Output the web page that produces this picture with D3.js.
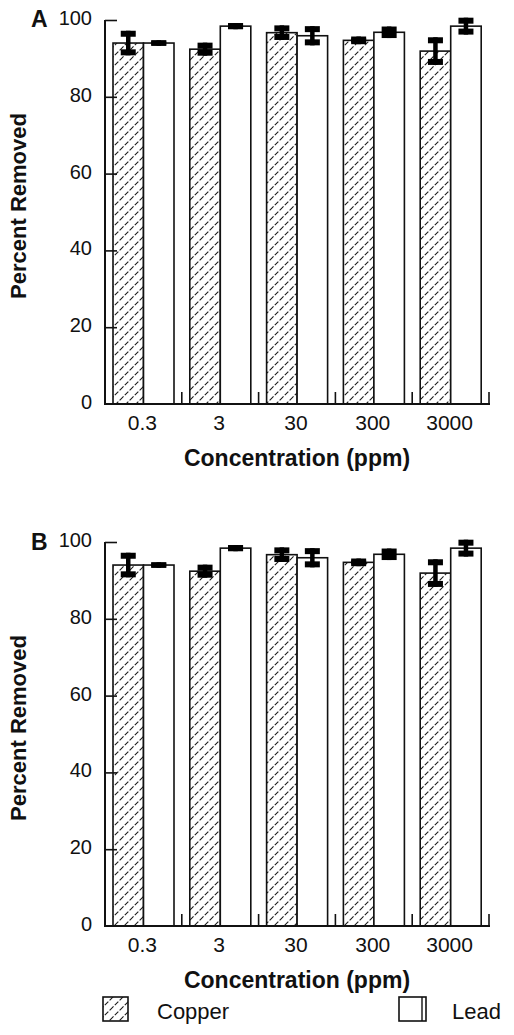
<!DOCTYPE html>
<html><head><meta charset="utf-8">
<script src="https://cdn.jsdelivr.net/npm/d3@7"></script>
<style>body{margin:0;background:#fff}svg{display:block}text{font-family:"Liberation Sans",Arial,sans-serif;fill:#111}</style>
</head><body><svg id="c" width="514" height="1035"></svg>
<script>
const categories = ["0.3","3","30","300","3000"];
const series = ["Copper","Lead"];
const copperMean = [94.0, 92.4, 96.7, 94.7, 91.9];
const copperErr  = [3.2, 1.7, 1.9, 1.0, 3.6];
const leadMean   = [94.0, 98.4, 95.9, 96.8, 98.4];
const leadErr    = [0.7, 0.8, 2.5, 1.5, 2.2];
const yTicks = [0, 20, 40, 60, 80, 100];
const panels = ["A", "B"];

const svg = d3.select("#c");
const defs = svg.append("defs");
const pat = defs.append("pattern").attr("id","hatch").attr("patternUnits","userSpaceOnUse")
  .attr("width",10).attr("height",10);
pat.append("rect").attr("width",10).attr("height",10).attr("fill","#fff");
pat.append("path").attr("d","M-2,2 L2,-2 M0,10 L10,0 M8,12 L12,8").attr("stroke","#1a1a1a").attr("stroke-width",1.1).attr("stroke-dasharray","5,1.8");

const x = d3.scaleBand().domain(categories).range([105, 489]);
const xs = d3.scaleBand().domain(series).range([8, 69]);

panels.forEach((p, pi) => {
  const off = pi * 522;
  const y = d3.scaleLinear().domain([0, 100]).range([404 + off, 20 + off]);
  const g = svg.append("g");
  const data = categories.map((c, i) => [
    {c, s:"Copper", m:copperMean[i], e:copperErr[i]},
    {c, s:"Lead", m:leadMean[i], e:leadErr[i]}
  ]).flat();

  // bars
  g.selectAll("rect.bar").data(data).join("rect").attr("class","bar")
    .attr("x", d => x(d.c) + xs(d.s)).attr("width", xs.bandwidth())
    .attr("y", d => y(d.m)).attr("height", d => y(0) - y(d.m))
    .attr("fill", d => d.s === "Copper" ? "url(#hatch)" : "#fff")
    .attr("stroke", "#111").attr("stroke-width", 1.6);

  // error bars
  const capW = 15, capH = 6, stemW = 4.5;
  const eb = g.selectAll("g.eb").data(data).join("g").attr("class","eb");
  eb.append("rect").attr("x", d => x(d.c) + xs(d.s) + xs.bandwidth()/2 - stemW/2)
    .attr("width", stemW).attr("y", d => y(d.m + d.e)).attr("height", d => y(d.m - d.e) - y(d.m + d.e)).attr("fill","#000");
  eb.append("rect").attr("x", d => x(d.c) + xs(d.s) + xs.bandwidth()/2 - capW/2)
    .attr("width", capW).attr("y", d => y(d.m + d.e)).attr("height", d => Math.min(capH, (y(d.m - d.e) - y(d.m + d.e)))).attr("fill","#000");
  eb.append("rect").attr("x", d => x(d.c) + xs(d.s) + xs.bandwidth()/2 - capW/2)
    .attr("width", capW).attr("y", d => Math.max(y(d.m + d.e), y(d.m - d.e) - capH)).attr("height", d => Math.min(capH, (y(d.m - d.e) - y(d.m + d.e)))).attr("fill","#000");

  // y axis
  const ya = g.append("g").attr("transform", "translate(105,0)")
    .call(d3.axisRight(y).tickValues(yTicks.filter(t => t > 0)).tickSize(12).tickFormat(""));
  ya.select(".domain").remove();
  ya.selectAll("line").attr("stroke","#111").attr("stroke-width",1.6);
  g.append("line").attr("x1",105).attr("x2",105).attr("y1",y(100)).attr("y2",y(0)+1).attr("stroke","#111").attr("stroke-width",2);
  g.selectAll("text.yt").data(yTicks).join("text").attr("class","yt")
    .attr("x", 92).attr("y", d => y(d) + 5).attr("text-anchor","end")
    .attr("font-size", 20).text(d => d);

  // x axis
  g.append("line").attr("x1",104).attr("x2",490).attr("y1",y(0)).attr("y2",y(0)).attr("stroke","#111").attr("stroke-width",2);
  g.selectAll("line.xt").data(categories).join("line").attr("class","xt")
    .attr("x1", d => x(d) + x.bandwidth()).attr("x2", d => x(d) + x.bandwidth())
    .attr("y1", y(0)).attr("y2", y(0) - 12).attr("stroke","#111").attr("stroke-width",1.6);
  g.selectAll("text.xl").data(categories).join("text").attr("class","xl")
    .attr("x", d => x(d) + x.bandwidth()/2 - 1).attr("y", y(0) + 26)
    .attr("text-anchor","middle").attr("font-size", 21).text(d => d);

  g.append("text").attr("x", 297).attr("y", y(0) + 62).attr("text-anchor","middle")
    .attr("font-size", 23).attr("font-weight","bold").text("Concentration (ppm)");
  g.append("text").attr("transform", `translate(26,${206 + off}) rotate(-90)`).attr("text-anchor","middle")
    .attr("font-size", 22).attr("font-weight","bold").text("Percent Removed");
  g.append("text").attr("x", 31).attr("y", 27 + off + (pi ? 1 : 0)).attr("font-size", 23).attr("font-weight","bold").text(p);
});

// legend
const lg = svg.append("g");
lg.append("rect").attr("x",103).attr("y",997).attr("width",25).attr("height",24).attr("fill","url(#hatch)").attr("stroke","#111").attr("stroke-width",1.6);
lg.append("text").attr("x",157).attr("y",1019).attr("font-size",22).text(series[0]);
lg.append("rect").attr("x",399).attr("y",997).attr("width",27).attr("height",24).attr("fill","#fff").attr("stroke","#111").attr("stroke-width",1.6);
lg.append("line").attr("x1",422).attr("x2",422).attr("y1",997).attr("y2",1021).attr("stroke","#111").attr("stroke-width",1.4);
lg.append("text").attr("x",452).attr("y",1019).attr("font-size",22).text(series[1]);
</script></body></html>
